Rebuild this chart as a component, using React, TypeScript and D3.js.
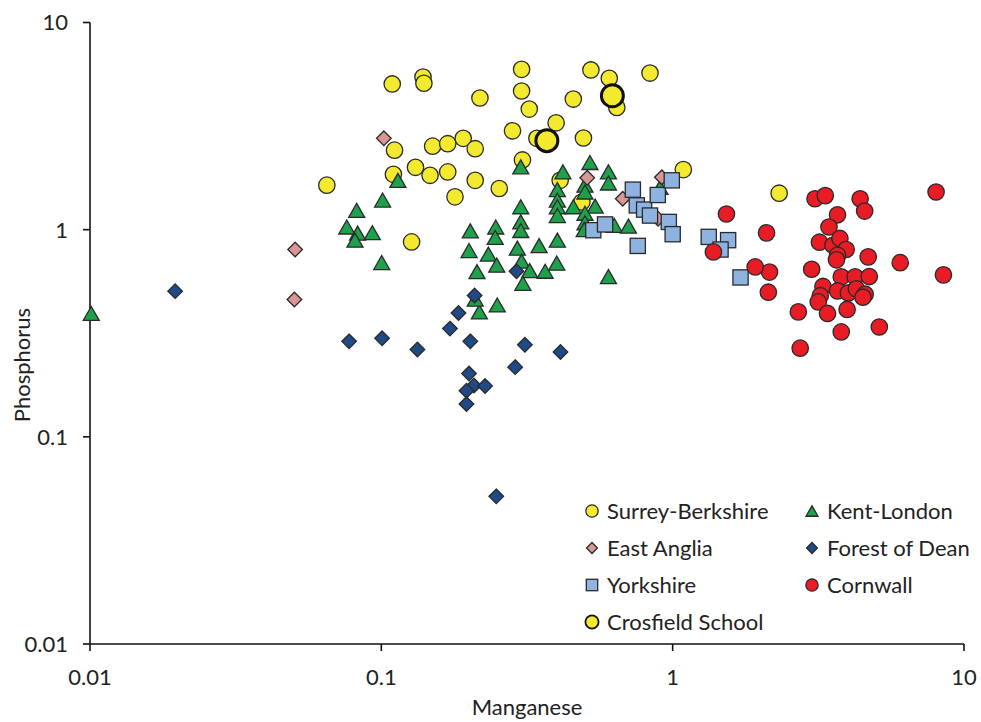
import React from "react";
import * as d3 from "d3";

type Pt = [number, number];

const surreyBerkshire: Pt[] = [
  [0.109, 5.05], [0.139, 5.45], [0.14, 5.09], [0.218, 4.32], [0.303, 5.94], [0.303, 4.67],
  [0.322, 3.82], [0.282, 3.0], [0.398, 3.28], [0.524, 5.9], [0.456, 4.27], [0.606, 5.38],
  [0.643, 3.89], [0.836, 5.7], [0.111, 2.42], [0.15, 2.53], [0.169, 2.6], [0.191, 2.76],
  [0.21, 2.46], [0.11, 1.85], [0.131, 2.0], [0.147, 1.83], [0.169, 1.9], [0.21, 1.73],
  [0.179, 1.44], [0.065, 1.64], [0.127, 0.873], [0.305, 2.17], [0.254, 1.58], [0.411, 1.73],
  [0.488, 1.36], [0.342, 2.76], [0.494, 2.77], [1.088, 1.95], [2.32, 1.5],
];

const kentLondon: Pt[] = [
  [0.0101, 0.394], [0.114, 1.73], [0.101, 1.39], [0.0823, 1.24], [0.0761, 1.03], [0.0829, 0.962],
  [0.0812, 0.89], [0.0931, 0.967], [0.1003, 0.694], [0.202, 0.987], [0.2, 0.793], [0.213, 0.627],
  [0.247, 1.03], [0.246, 0.917], [0.233, 0.762], [0.249, 0.674], [0.301, 2.01], [0.301, 1.29],
  [0.301, 1.09], [0.301, 0.991], [0.293, 0.814], [0.348, 0.837], [0.402, 0.89], [0.303, 0.705],
  [0.323, 0.634], [0.365, 0.63], [0.4, 0.689], [0.306, 0.551], [0.602, 0.593], [0.217, 0.401],
  [0.25, 0.433], [0.21, 0.462], [0.42, 1.9], [0.52, 2.11], [0.602, 1.9], [0.602, 1.68],
  [0.402, 1.56], [0.5, 1.64], [0.5, 1.52], [0.402, 1.39], [0.402, 1.29], [0.402, 1.17],
  [0.456, 1.29], [0.542, 1.3], [0.5, 1.2], [0.5, 1.08], [0.497, 1.0], [0.63, 1.05],
  [0.705, 1.04], [0.905, 1.6],
];

const eastAnglia: Pt[] = [
  [0.102, 2.76], [0.0506, 0.802], [0.0503, 0.46], [0.509, 1.78], [0.674, 1.41], [0.918, 1.79], [0.891, 1.13],
];

const forestOfDean: Pt[] = [
  [0.0196, 0.505], [0.0775, 0.289], [0.1006, 0.299], [0.133, 0.264], [0.172, 0.333], [0.184, 0.396],
  [0.209, 0.481], [0.202, 0.289], [0.2, 0.202], [0.208, 0.177], [0.196, 0.167], [0.227, 0.176],
  [0.196, 0.144], [0.288, 0.217], [0.311, 0.278], [0.412, 0.257], [0.248, 0.0516], [0.291, 0.63],
];

const yorkshire: Pt[] = [
  [0.534, 0.994], [0.586, 1.06], [0.73, 1.56], [0.753, 1.31], [0.798, 1.25], [0.836, 1.17],
  [0.889, 1.47], [0.993, 1.73], [0.97, 1.09], [1.0, 0.951], [0.759, 0.835], [1.33, 0.923],
  [1.55, 0.89], [1.46, 0.802], [1.71, 0.588],
];

const cornwall: Pt[] = [
  [3.08, 1.41], [3.34, 1.46], [4.4, 1.41], [4.56, 1.23], [8.02, 1.52], [3.68, 1.18], [3.44, 1.03],
  [2.1, 0.965], [1.53, 1.19], [3.19, 0.87], [3.55, 0.841], [3.75, 0.907], [3.94, 0.802], [3.68, 0.753],
  [3.65, 0.715], [4.69, 0.739], [6.04, 0.693], [3.0, 0.644], [2.15, 0.624], [1.92, 0.661], [8.5, 0.605],
  [3.79, 0.592], [4.23, 0.592], [4.73, 0.594], [3.28, 0.532], [3.21, 0.48], [3.16, 0.448], [3.68, 0.506],
  [4.01, 0.495], [4.27, 0.518], [4.58, 0.488], [2.13, 0.499], [2.7, 0.401], [3.4, 0.394], [3.97, 0.412],
  [3.79, 0.321], [5.12, 0.339], [2.74, 0.268], [1.38, 0.781], [4.5, 0.472],
];

const crosfieldSchool: Pt[] = [[0.621, 4.43], [0.37, 2.69]];

const xTicks = [0.01, 0.1, 1, 10];
const yTicks = [0.01, 0.1, 1, 10];
const tickLabels = ["0.01", "0.1", "1", "10"];

type Shape = "circle" | "triangle" | "diamond" | "square" | "bigcircle";
interface Series { name: string; data: Pt[]; shape: Shape; fill: string; }

const series: Series[] = [
  { name: "Surrey-Berkshire", data: surreyBerkshire, shape: "circle", fill: "#F3E92E" },
  { name: "Kent-London", data: kentLondon, shape: "triangle", fill: "#1FA04B" },
  { name: "East Anglia", data: eastAnglia, shape: "diamond", fill: "#D99694" },
  { name: "Forest of Dean", data: forestOfDean, shape: "diamond", fill: "#1F4A86" },
  { name: "Yorkshire", data: yorkshire, shape: "square", fill: "#8EB3E1" },
  { name: "Cornwall", data: cornwall, shape: "circle", fill: "#E81C24" },
  { name: "Crosfield School", data: crosfieldSchool, shape: "bigcircle", fill: "#F3E92E" },
];

const FONT = "Lato, 'Open Sans', sans-serif";
const FS = 22;

function Marker({ shape, fill, x, y, s = 1 }: { shape: Shape; fill: string; x: number; y: number; s?: number }) {
  const stroke = "#2a2a2a";
  if (shape === "circle") return <circle cx={x} cy={y} r={8.2 * s} fill={fill} stroke={stroke} strokeWidth={1.3} />;
  if (shape === "bigcircle") return <circle cx={x} cy={y} r={11 * s} fill={fill} stroke="#111" strokeWidth={3 * s} />;
  if (shape === "triangle") {
    const w = 16 * s, h = 14 * s;
    return <path d={`M${x},${y - h / 2}L${x + w / 2},${y + h / 2}L${x - w / 2},${y + h / 2}Z`} fill={fill} stroke={stroke} strokeWidth={1.3} />;
  }
  if (shape === "diamond") {
    const r = 7.3 * s;
    return <path d={`M${x},${y - r}L${x + r},${y}L${x},${y + r}L${x - r},${y}Z`} fill={fill} stroke={stroke} strokeWidth={1.3} />;
  }
  const a = 7.6 * s;
  return <rect x={x - a} y={y - a} width={2 * a} height={2 * a} fill={fill} stroke={stroke} strokeWidth={1.3} />;
}

export default function App() {
  const W = 981, H = 722;
  const x = d3.scaleLog().domain([0.01, 10]).range([90, 964]);
  const y = d3.scaleLog().domain([0.01, 10]).range([644, 22.5]);
  const legendCols = [592, 812];
  const legendRows = [511, 548, 585, 622];
  return (
    <svg width={W} height={H} style={{ position: "absolute", left: 0, top: 0, background: "#fff" }} fontFamily={FONT}>
      <line x1={x(0.01)} x2={x(0.01)} y1={y(10)} y2={y(0.01)} stroke="#111" strokeWidth={1.6} />
      <line x1={x(0.01)} x2={x(10)} y1={y(0.01)} y2={y(0.01)} stroke="#111" strokeWidth={1.6} />
      {yTicks.map((t, i) => (
        <g key={"yt" + i}>
          <line x1={x(0.01) - 7} x2={x(0.01)} y1={y(t)} y2={y(t)} stroke="#111" strokeWidth={1.6} />
          <text x={68} y={y(t)} dy="0.36em" textAnchor="end" fontSize={FS} fill="#222">{tickLabels[i]}</text>
        </g>
      ))}
      {xTicks.map((t, i) => (
        <g key={"xt" + i}>
          <line x1={x(t)} x2={x(t)} y1={y(0.01)} y2={y(0.01) + 7} stroke="#111" strokeWidth={1.6} />
          <text x={x(t)} y={685} textAnchor="middle" fontSize={FS} fill="#222">{tickLabels[i]}</text>
        </g>
      ))}
      <text x={527} y={715} textAnchor="middle" fontSize={FS} fill="#222">Manganese</text>
      <text transform={`translate(30,365) rotate(-90)`} textAnchor="middle" fontSize={FS} fill="#222">Phosphorus</text>
      {series.map((s) => (
        <g key={s.name}>
          {s.data.map((d, j) => (
            <Marker key={j} shape={s.shape} fill={s.fill} x={x(d[0])} y={y(d[1])} />
          ))}
        </g>
      ))}
      {series.map((s, i) => {
        const cx = legendCols[i % 2];
        const cy = legendRows[Math.floor(i / 2)];
        return (
          <g key={"lg" + i}>
            <Marker shape={s.shape} fill={s.fill} x={cx} y={cy} s={s.shape === "bigcircle" ? 0.6 : 0.75} />
            <text x={cx + 15} y={cy} dy="0.36em" fontSize={FS} fill="#222">{s.name}</text>
          </g>
        );
      })}
    </svg>
  );
}
